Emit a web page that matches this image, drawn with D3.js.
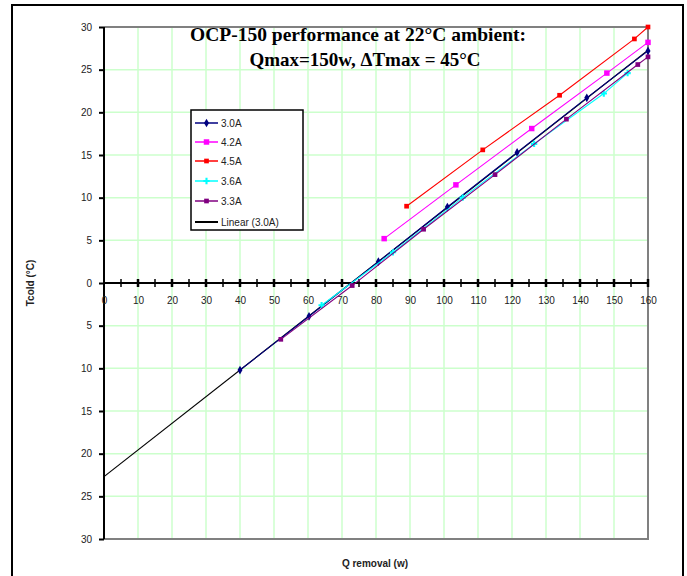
<!DOCTYPE html>
<html>
<head>
<meta charset="utf-8">
<script src="https://cdn.jsdelivr.net/npm/d3@7"></script>
<style>
body { margin: 0; background: #fff; }
text { font-family: "Liberation Sans", Arial, sans-serif; }
</style>
</head>
<body>
<script>
// values: [Q removal (w), Tcold (C)]
const s30 = [[40, -10.2], [60.3, -3.9], [80.7, 2.5], [101, 8.9], [121.5, 15.3], [142, 21.7], [160, 27.2]];
const s42 = [[82.4, 5.2], [103.5, 11.5], [125.8, 18.1], [147.9, 24.6], [160, 28.2]];
const s45 = [[89, 9.0], [111.4, 15.6], [134, 22.0], [156, 28.6], [160, 30]];
const s36 = [[64, -2.6], [85, 3.6], [105.5, 10.0], [126.5, 16.3], [147, 22.2], [154, 24.6]];
const s33 = [[52, -6.6], [73, -0.3], [94, 6.3], [115, 12.7], [136, 19.2], [157, 25.6], [160, 26.5]];
const xTicks = d3.range(0, 161, 10);
const yTicks = d3.range(-30, 31, 5);

const series = [
  {name: "3.0A", data: s30, color: "#000080", sym: d3.symbolDiamond, size: 22},
  {name: "4.2A", data: s42, color: "#ff00ff", sym: d3.symbolSquare, size: 30},
  {name: "4.5A", data: s45, color: "#ff0000", sym: d3.symbolSquare, size: 22},
  {name: "3.6A", data: s36, color: "#00ffff", sym: d3.symbolCross, size: 22},
  {name: "3.3A", data: s33, color: "#800080", sym: d3.symbolSquare, size: 22}
];

const svg = d3.select("body").append("svg").attr("width", 687).attr("height", 576);

svg.append("rect").attr("x", 12).attr("y", 5).attr("width", 671).attr("height", 580)
  .attr("fill", "#fff").attr("stroke", "#000").attr("stroke-width", 2);

const x = d3.scaleLinear().domain([0, 160]).range([104, 648]);
const y = d3.scaleLinear().domain([-30, 30]).range([539, 27]);

// grid
svg.append("g").selectAll("line").data(xTicks.filter(d => d > 0 && d < 160)).enter().append("line")
  .attr("x1", d => x(d)).attr("x2", d => x(d)).attr("y1", y(30)).attr("y2", y(-30))
  .attr("stroke", "#ccffcc").attr("stroke-width", 1.5);
svg.append("g").selectAll("line").data(yTicks.filter(d => d > -30 && d < 30 && d != 0)).enter().append("line")
  .attr("x1", x(0)).attr("x2", x(160)).attr("y1", d => y(d)).attr("y2", d => y(d))
  .attr("stroke", "#ccffcc").attr("stroke-width", 1.5);

// plot border
svg.append("path").attr("d", `M${x(0)},${y(30)}H${x(160)}V${y(-30)}H${x(0)}`)
  .attr("fill", "none").attr("stroke", "#808080").attr("stroke-width", 2);

// y axis
const yAxis = svg.append("g").attr("transform", `translate(${x(0)},0)`)
  .call(d3.axisLeft(y).tickValues(yTicks).tickSize(5).tickPadding(7).tickFormat(d => Math.abs(d)));
yAxis.select(".domain").remove();
yAxis.selectAll("line").attr("stroke", "#000").attr("stroke-width", 2);
yAxis.selectAll("text").attr("font-size", 10).attr("fill", "#222");
svg.append("line").attr("x1", x(0)).attr("x2", x(0)).attr("y1", y(30)).attr("y2", y(-30))
  .attr("stroke", "#000").attr("stroke-width", 2);

// x axis at y = 0
const xAxis = svg.append("g").attr("transform", `translate(0,${y(0)})`)
  .call(d3.axisBottom(x).tickValues(xTicks).tickSize(0).tickPadding(14));
xAxis.select(".domain").remove();
xAxis.selectAll("text").attr("font-size", 10).attr("fill", "#222");
svg.append("line").attr("x1", x(0)).attr("x2", x(160)).attr("y1", y(0)).attr("y2", y(0))
  .attr("stroke", "#000").attr("stroke-width", 2);
svg.append("g").selectAll("line").data(d3.range(5, 161, 5)).enter().append("line")
  .attr("x1", d => x(d)).attr("x2", d => x(d)).attr("y1", y(0) - 4).attr("y2", y(0) + 4)
  .attr("stroke", "#000").attr("stroke-width", d => d % 10 == 0 ? 2.5 : 1.5);

// linear trend of 3.0A
const mx = d3.mean(s30, d => d[0]), my = d3.mean(s30, d => d[1]);
const slope = d3.sum(s30, d => (d[0] - mx) * (d[1] - my)) / d3.sum(s30, d => (d[0] - mx) ** 2);
const icpt = my - slope * mx;
const trend = [0, 160].map(v => [v, icpt + slope * v]);

const line = d3.line().x(d => x(d[0])).y(d => y(d[1]));

svg.append("path").datum(trend).attr("d", line)
  .attr("fill", "none").attr("stroke", "#000").attr("stroke-width", 1.2);

series.forEach(s => {
  svg.append("path").datum(s.data).attr("d", line)
    .attr("fill", "none").attr("stroke", s.color).attr("stroke-width", 1.1);
  svg.append("g").selectAll("path").data(s.data).enter().append("path")
    .attr("transform", d => `translate(${x(d[0])},${y(d[1])})`)
    .attr("d", d3.symbol().type(s.sym).size(s.size))
    .attr("fill", s.color);
});

// legend
const lg = svg.append("g");
lg.append("rect").attr("x", 191).attr("y", 110).attr("width", 112).attr("height", 120)
  .attr("fill", "#fff").attr("stroke", "#000").attr("stroke-width", 1.5);
const items = series.concat([{name: "Linear (3.0A)", color: "#000", sym: null}]);
const ly = [123, 142, 161, 181, 201, 222];
items.forEach((s, i) => {
  lg.append("line").attr("x1", 195).attr("x2", 218).attr("y1", ly[i]).attr("y2", ly[i])
    .attr("stroke", s.color).attr("stroke-width", s.sym ? 1.5 : 2);
  if (s.sym) lg.append("path").attr("transform", `translate(206.5,${ly[i]})`)
    .attr("d", d3.symbol().type(s.sym).size(s.size)).attr("fill", s.color);
  lg.append("text").attr("x", 221).attr("y", ly[i] + 4).attr("font-size", 10).attr("fill", "#222").text(s.name);
});

// titles
svg.append("text").attr("x", 358).attr("y", 41).attr("text-anchor", "middle")
  .style("font-family", "'Liberation Serif', 'Times New Roman', serif").attr("font-weight", "bold")
  .attr("font-size", 19.5).text("OCP-150 performance at 22°C ambient:");
svg.append("text").attr("x", 365).attr("y", 66).attr("text-anchor", "middle")
  .style("font-family", "'Liberation Serif', 'Times New Roman', serif").attr("font-weight", "bold")
  .attr("font-size", 19).text("Qmax=150w, ΔTmax = 45°C");

svg.append("text").attr("transform", "translate(34,283) rotate(-90)").attr("text-anchor", "middle")
  .attr("font-size", 10).attr("font-weight", "bold").attr("fill", "#222").text("Tcold (°C)");
svg.append("text").attr("x", 375).attr("y", 567).attr("text-anchor", "middle")
  .attr("font-size", 10).attr("font-weight", "bold").attr("fill", "#222").text("Q removal (w)");
</script>
</body>
</html>
